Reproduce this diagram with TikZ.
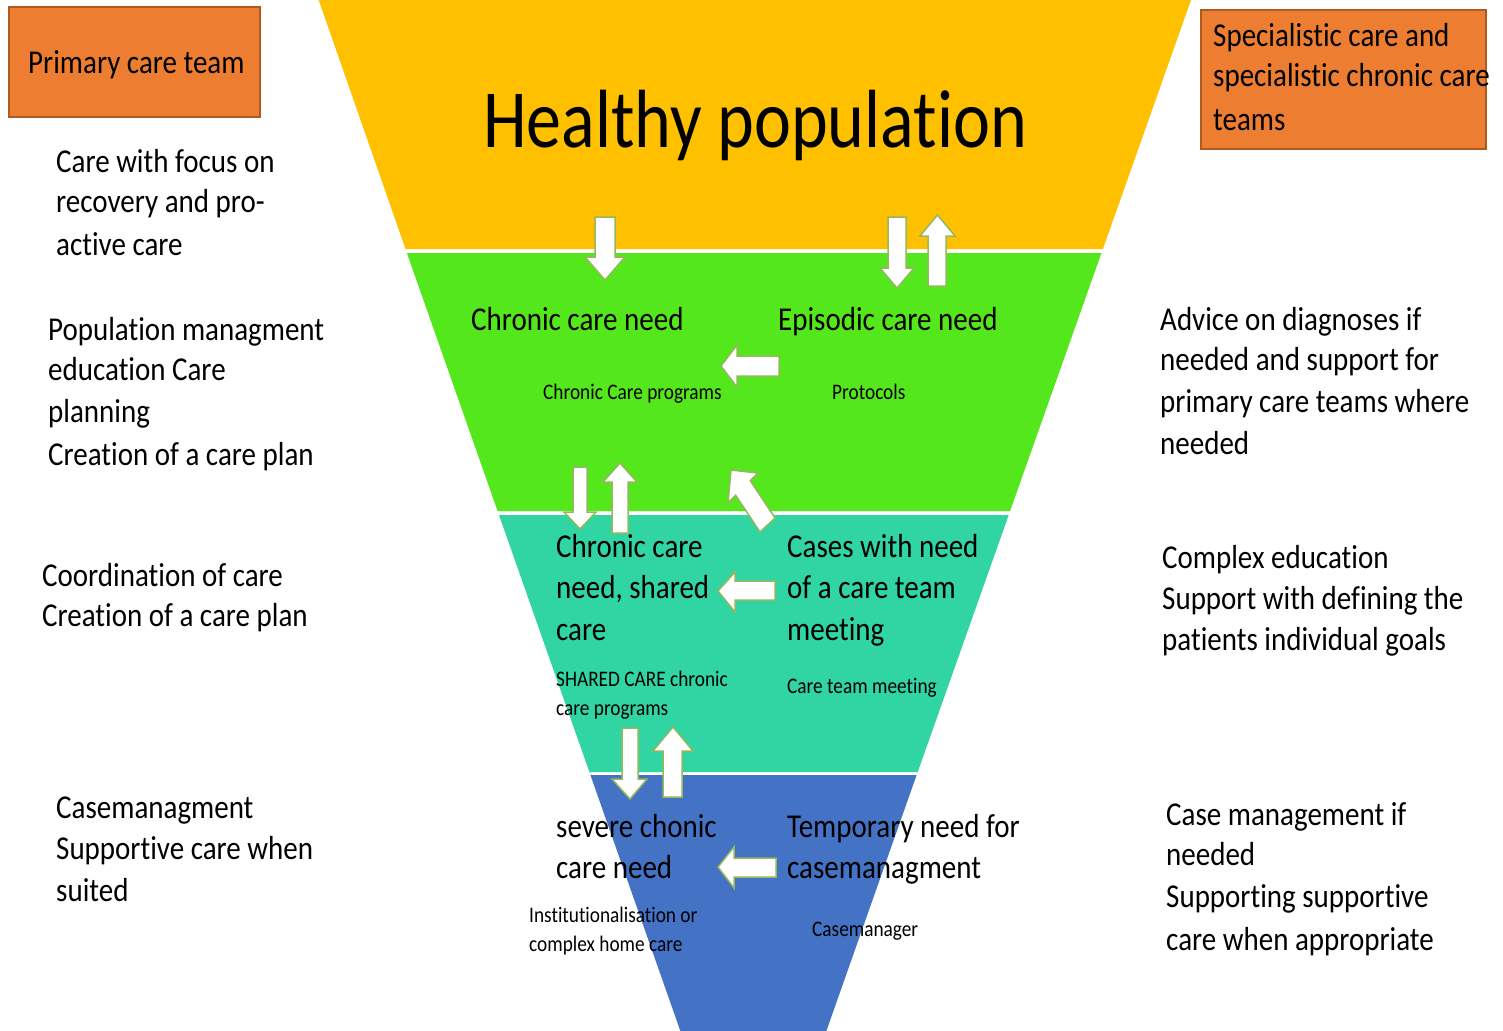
\documentclass[tikz,border=0pt]{standalone}
\usepackage{fontspec}
\setmainfont{Carlito}[Ligatures={NoCommon}]
\definecolor{cyellow}{HTML}{FFC000}
\definecolor{cgreen}{HTML}{54E71B}
\definecolor{cteal}{HTML}{30D5A3}
\definecolor{cblue}{HTML}{4472C4}
\definecolor{corange}{HTML}{ED7D31}
\definecolor{cborder}{HTML}{AE5A21}
\definecolor{carrow}{HTML}{93B85E}
\begin{document}
\begin{tikzpicture}[x=1pt,y=-1pt,
  lbl/.style={font=\fontsize{29}{35}\selectfont, anchor=base west, inner sep=0pt, yscale=1.15},
  sml/.style={font=\fontsize{19.3}{23}\selectfont, anchor=base west, inner sep=0pt, yscale=1.15},
  big/.style={font=\fontsize{70}{84}\selectfont, anchor=base, inner sep=0pt, yscale=1.18},
  teambox/.style={fill=corange, draw=cborder, line width=1.6pt},
  blockarrow/.style={fill=white, draw=carrow, line width=1.5pt, line join=miter}]
\useasboundingbox (0,0) rectangle (1503,1030);
\fill[white] (0,0) rectangle (1503,1030);
% funnel bands
\fill[cyellow] (318,-2) -- (1191.7,-2) -- (1102.9,249) -- (405.5,249) -- cycle;
\fill[cgreen] (406.9,253) -- (1101.4,253) -- (1010.1,511) -- (497.6,511) -- cycle;
\fill[cteal] (499.0,515) -- (1008.7,515) -- (917.7,772) -- (589.4,772) -- cycle;
\fill[cblue] (590.4,775) -- (916.6,775) -- (826.0,1032) -- (680.7,1032) -- cycle;
% team boxes
\draw[teambox] (9,7) rectangle (260,117);
\draw[teambox] (1201,10) rectangle (1486,149);
% block arrows
\draw[blockarrow] (595,217) -- (615,217) -- (615,257) -- (625,257) -- (605,280) -- (585,257) -- (595,257) -- cycle;
\draw[blockarrow] (888,217) -- (906,217) -- (906,268) -- (914,268) -- (897,288) -- (880,268) -- (888,268) -- cycle;
\draw[blockarrow] (928,286) -- (946,286) -- (946,236) -- (955,236) -- (937.5,215) -- (920,236) -- (928,236) -- cycle;
\draw[blockarrow] (779,356) -- (779,376) -- (737,376) -- (737,387) -- (721,366) -- (737,345) -- (737,356) -- cycle;
\draw[blockarrow] (573,467) -- (587,467) -- (587,512) -- (596,512) -- (580,529) -- (564,512) -- (573,512) -- cycle;
\draw[blockarrow] (612,533) -- (628,533) -- (628,482) -- (637,482) -- (620,463) -- (603,482) -- (612,482) -- cycle;
\draw[blockarrow] (760,532) -- (735.7,495.3) -- (728,503) -- (731,470) -- (758,473) -- (750.3,480.7) -- (775,518) -- cycle;
\draw[blockarrow] (775,581) -- (775,600) -- (735,600) -- (735,612) -- (718,591) -- (735,572) -- (735,581) -- cycle;
\draw[blockarrow] (622,728) -- (638,728) -- (638,779) -- (647,779) -- (630,799) -- (612,779) -- (622,779) -- cycle;
\draw[blockarrow] (663,797) -- (682,797) -- (682,751) -- (693,751) -- (673,727) -- (653,751) -- (663,751) -- cycle;
\draw[blockarrow] (776,858) -- (776,877) -- (734,877) -- (734,888) -- (718,867) -- (734,847) -- (734,858) -- cycle;
% title
\node[big] (healthy) at (755,147) {Healthy population};
% left column
\node[lbl] (pct) at (28,74) {Primary care team};
\node[lbl] (l1a) at (56,172) {Care with focus on};
\node[lbl] (l1b) at (56,212) {recovery and pro-};
\node[lbl] (l1c) at (56,255) {active care};
\node[lbl] (l2a) at (48,340) {Population managment};
\node[lbl] (l2b) at (48,380) {education Care};
\node[lbl] (l2c) at (48,422) {planning};
\node[lbl] (l2d) at (48,465) {Creation of a care plan};
\node[lbl] (l3a) at (42,586) {Coordination of care};
\node[lbl] (l3b) at (42,626) {Creation of a care plan};
\node[lbl] (l4a) at (56,818) {Casemanagment};
\node[lbl] (l4b) at (56,859) {Supportive care when};
\node[lbl] (l4c) at (56,901) {suited};
% right column
\node[lbl] (sct1) at (1213,47) {Specialistic care and};
\node[lbl] (sct2) at (1213,87) {specialistic chronic care};
\node[lbl] (sct3) at (1213,130) {teams};
\node[lbl] (r1a) at (1160,330) {Advice on diagnoses if};
\node[lbl] (r1b) at (1160,370) {needed and support for};
\node[lbl] (r1c) at (1160,412) {primary care teams where};
\node[lbl] (r1d) at (1160,454) {needed};
\node[lbl] (r2a) at (1162,568) {Complex education};
\node[lbl] (r2b) at (1162,609) {Support with defining the};
\node[lbl] (r2c) at (1162,650) {patients individual goals};
\node[lbl] (r3a) at (1166,825) {Case management if};
\node[lbl] (r3b) at (1166,865) {needed};
\node[lbl] (r3c) at (1166,907) {Supporting supportive};
\node[lbl] (r3d) at (1166,950) {care when appropriate};
% funnel labels
\node[lbl] (ccn) at (471,330) {Chronic care need};
\node[lbl] (ecn) at (778,330) {Episodic care need};
\node[sml] (ccp) at (543,399) {Chronic Care programs};
\node[sml] (prot) at (832,399) {Protocols};
\node[lbl] (sh1) at (556,557) {Chronic care};
\node[lbl] (sh2) at (556,598) {need, shared};
\node[lbl] (sh3) at (556,640) {care};
\node[lbl] (ct1) at (787,557) {Cases with need};
\node[lbl] (ct2) at (787,598) {of a care team};
\node[lbl] (ct3) at (787,640) {meeting};
\node[sml] (scp1) at (556,686) {SHARED CARE chronic};
\node[sml] (scp2) at (556,715) {care programs};
\node[sml] (ctm) at (787,693) {Care team meeting};
\node[lbl] (sv1) at (556,837) {severe chonic};
\node[lbl] (sv2) at (556,878) {care need};
\node[lbl] (tm1) at (787,837) {Temporary need for};
\node[lbl] (tm2) at (787,878) {casemanagment};
\node[sml] (ins1) at (529,922) {Institutionalisation or};
\node[sml] (ins2) at (529,951) {complex home care};
\node[sml] (cm) at (812,936) {Casemanager};
\end{tikzpicture}
\end{document}
